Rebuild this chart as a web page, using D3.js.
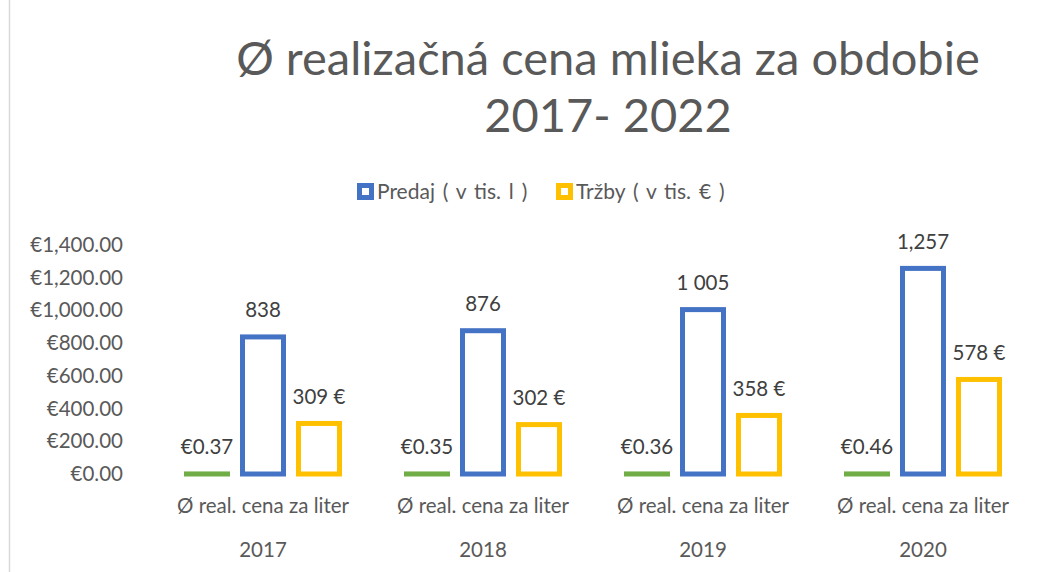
<!DOCTYPE html>
<html>
<head>
<meta charset="utf-8">
<script src="https://cdn.jsdelivr.net/npm/d3@7/dist/d3.min.js"></script>
<style>
  html, body { margin: 0; padding: 0; background: #fff; }
  svg { display: block; font-family: Lato, "Open Sans", sans-serif; }
</style>
</head>
<body>
<div id="chart"></div>
<script>
var years = ["2017", "2018", "2019", "2020"];
var subLabel = "Ø real. cena za liter";
var seriesKeys = ["cena", "predaj", "trzby"];
var cenaValues = [0.37, 0.35, 0.36, 0.46];
var predajValues = [838, 876, 1005, 1257];
var trzbyValues = [309, 302, 358, 578];
var cenaLabels = ["€0.37", "€0.35", "€0.36", "€0.46"];
var predajLabels = ["838", "876", "1 005", "1,257"];
var trzbyLabels = ["309 €", "302 €", "358 €", "578 €"];
var yTicks = [0, 200, 400, 600, 800, 1000, 1200, 1400];
var titleLines = ["Ø realizačná cena mlieka za obdobie", "2017- 2022"];
var legendItems = [
  {key: "predaj", label: "Predaj ( v tis. l )"},
  {key: "trzby", label: "Tržby ( v tis. € )"}
];

var colors = {cena: "#70ad47", predaj: "#4472c4", trzby: "#ffc000"};
var width = 1049, height = 572;
var stroke = 5;
var fontSize = 20.5;

var svg = d3.select("#chart").append("svg")
  .attr("width", width)
  .attr("height", height);

svg.append("rect")
  .attr("width", width).attr("height", height)
  .attr("fill", "#fff");

// chart frame edge on the left
svg.append("line")
  .attr("x1", 9.5).attr("x2", 9.5)
  .attr("y1", 0).attr("y2", height)
  .attr("stroke", "#d9d9d9")
  .attr("stroke-width", 1.5);

// title
svg.append("g").selectAll("text")
  .data(titleLines)
  .join("text")
  .attr("x", 608)
  .attr("y", function (d, i) { return i === 0 ? 75 : 132; })
  .attr("text-anchor", "middle")
  .attr("font-size", 47)
  .attr("fill", "#595959")
  .text(function (d) { return d; });

// legend
var legend = svg.append("g");
var legendX = [357, 556];
legendItems.forEach(function (item, i) {
  var g = legend.append("g").attr("transform", "translate(" + legendX[i] + ",183)");
  g.append("rect")
    .attr("x", 2.5).attr("y", 2.5)
    .attr("width", 12).attr("height", 12)
    .attr("fill", "#fff")
    .attr("stroke", colors[item.key])
    .attr("stroke-width", stroke);
  g.append("text")
    .attr("x", 20)
    .attr("y", 16)
    .attr("font-size", 21)
    .attr("word-spacing", 2.5)
    .attr("fill", "#595959")
    .text(item.label);
});

var y = d3.scaleLinear().domain([0, 1400]).range([474, 245]);
var x0 = d3.scaleBand().domain(years).range([153, 1033]);
var x1 = d3.scaleBand().domain(seriesKeys).range([0, x0.bandwidth()])
  .paddingInner(0.1786).paddingOuter(0.5536);

// y axis
var yAxis = svg.append("g")
  .attr("transform", "translate(130,0)")
  .call(d3.axisLeft(y).tickValues(yTicks).tickSize(0).tickPadding(7)
    .tickFormat(function (d) { return "€" + d3.format(",.2f")(d); }));
yAxis.select(".domain").remove();
yAxis.selectAll("text")
  .attr("font-family", "Lato, 'Open Sans', sans-serif")
  .attr("font-size", fontSize)
  .attr("fill", "#595959");

var rows = years.map(function (yr, i) {
  return {
    year: yr,
    bars: [
      {key: "cena", value: cenaValues[i], label: cenaLabels[i]},
      {key: "predaj", value: predajValues[i], label: predajLabels[i]},
      {key: "trzby", value: trzbyValues[i], label: trzbyLabels[i]}
    ]
  };
});

var group = svg.append("g").selectAll("g")
  .data(rows)
  .join("g")
  .attr("transform", function (d) { return "translate(" + x0(d.year) + ",0)"; });

group.selectAll("rect")
  .data(function (d) { return d.bars; })
  .join("rect")
  .attr("x", function (d) { return x1(d.key) + stroke / 2; })
  .attr("width", x1.bandwidth() - stroke)
  .attr("y", function (d) { return y(d.value); })
  .attr("height", function (d) { return y(0) - y(d.value); })
  .attr("fill", "#fff")
  .attr("stroke", function (d) { return colors[d.key]; })
  .attr("stroke-width", stroke);

group.selectAll("text.val")
  .data(function (d) { return d.bars; })
  .join("text")
  .attr("class", "val")
  .attr("x", function (d) { return x1(d.key) + x1.bandwidth() / 2; })
  .attr("y", function (d) { return y(d.value) - stroke / 2 - 17; })
  .attr("text-anchor", "middle")
  .attr("font-size", fontSize)
  .attr("fill", "#404040")
  .text(function (d) { return d.label; });

group.append("text")
  .attr("x", x0.bandwidth() / 2)
  .attr("y", 513)
  .attr("text-anchor", "middle")
  .attr("font-size", fontSize)
  .attr("fill", "#595959")
  .text(subLabel);

group.append("text")
  .attr("x", x0.bandwidth() / 2)
  .attr("y", 557)
  .attr("text-anchor", "middle")
  .attr("font-size", fontSize)
  .attr("fill", "#595959")
  .text(function (d) { return d.year; });
</script>
</body>
</html>
